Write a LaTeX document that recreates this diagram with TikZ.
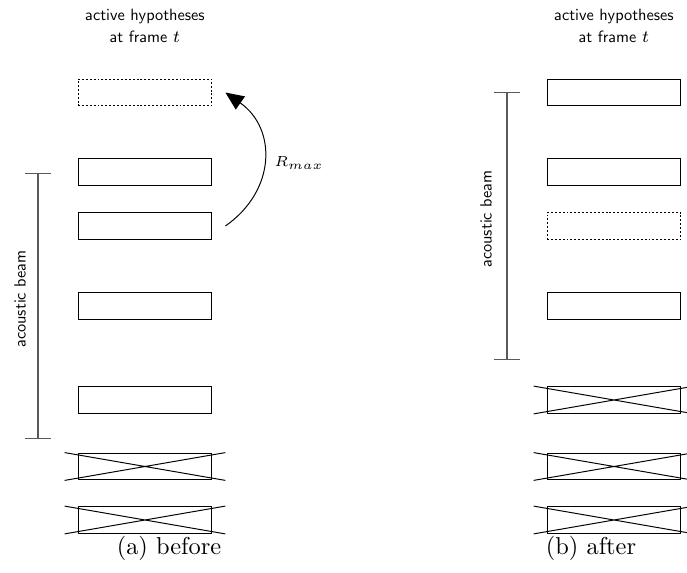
\documentclass[tikz,border=0pt]{standalone}
\usepackage{amsmath}
\usepackage{tikz}
\usetikzlibrary{arrows.meta}

% light sans face for the small labels
\font\hypfont=cmss10 at 6.7pt

\begin{document}
\begin{tikzpicture}[x=0.0144cm, y=0.0144cm,
  hyp/.style={draw, line width=0.4pt, minimum width=54.9pt, minimum height=11pt, inner sep=0pt},
  hypfree/.style={hyp, dash pattern=on 0.8pt off 0.8pt},
  cut/.style={line width=0.4pt},
  beam/.style={draw=black!65, line width=0.5pt, {Bar[width=10.6pt]}-{Bar[width=10.6pt]}},
  lbl/.style={font=\fontsize{6.7}{9}\selectfont\hypfont, align=center}]
  \useasboundingbox (0,0) rectangle (687,-573);

  % (a) before pruning
  \node[lbl] (titlea) at (145,-26) {active hypotheses\\ at frame $t$};
  \node[hypfree] (a1) at (145,-92.5) {};
  \node[hyp] (a2) at (145,-172) {};
  \node[hyp] (a3) at (145,-226) {};
  \node[hyp] (a4) at (145,-306) {};
  \node[hyp] (a5) at (145,-400) {};
  \node[hyp] (a6) at (145,-466.5) {};
  \node[hyp] (a7) at (145,-520) {};
  \coordinate (beamatop) at (38,-173);
  \coordinate (beamabot) at (38,-439);
  \draw[beam] (beamatop) -- (beamabot);
  \node[lbl, rotate=90] (beamlbla) at (20,-299) {acoustic beam};
  % recombination step
  \coordinate (rfrom) at ([xshift=5.3pt]a3.east);
  \coordinate (rto) at ([xshift=5.3pt]a1.east);
  \draw[-{Triangle[length=7.5pt,width=6.5pt]}] (rfrom) to[bend right=55, looseness=1.2] (rto);
  \node[font=\fontsize{6.2}{8}\selectfont] (rmax) at (299,-163) {$R_{max}$};
  \node (capa) at (169,-548) {(a) before};

  % (b) after pruning
  \node[lbl] (titleb) at (614,-26) {active hypotheses\\ at frame $t$};
  \node[hyp] (b1) at (614,-92.5) {};
  \node[hyp] (b2) at (614,-172) {};
  \node[hypfree] (b3) at (614,-226) {};
  \node[hyp] (b4) at (614,-306) {};
  \node[hyp] (b5) at (614,-400) {};
  \node[hyp] (b6) at (614,-466.5) {};
  \node[hyp] (b7) at (614,-520) {};
  \coordinate (beambtop) at (507,-92);
  \coordinate (beambbot) at (507,-360);
  \draw[beam] (beambtop) -- (beambbot);
  \node[lbl, rotate=90] (beamlblb) at (486,-219) {acoustic beam};
  \node (capb) at (591,-548) {(b) after};

  % pruned hypotheses are crossed out
  \foreach \n in {a6,a7,b5,b6,b7}
    \draw[cut] ([xshift=-5.3pt]\n.north west) -- ([xshift=5.3pt]\n.south east)
               ([xshift=-5.3pt]\n.south west) -- ([xshift=5.3pt]\n.north east);
\end{tikzpicture}
\end{document}
